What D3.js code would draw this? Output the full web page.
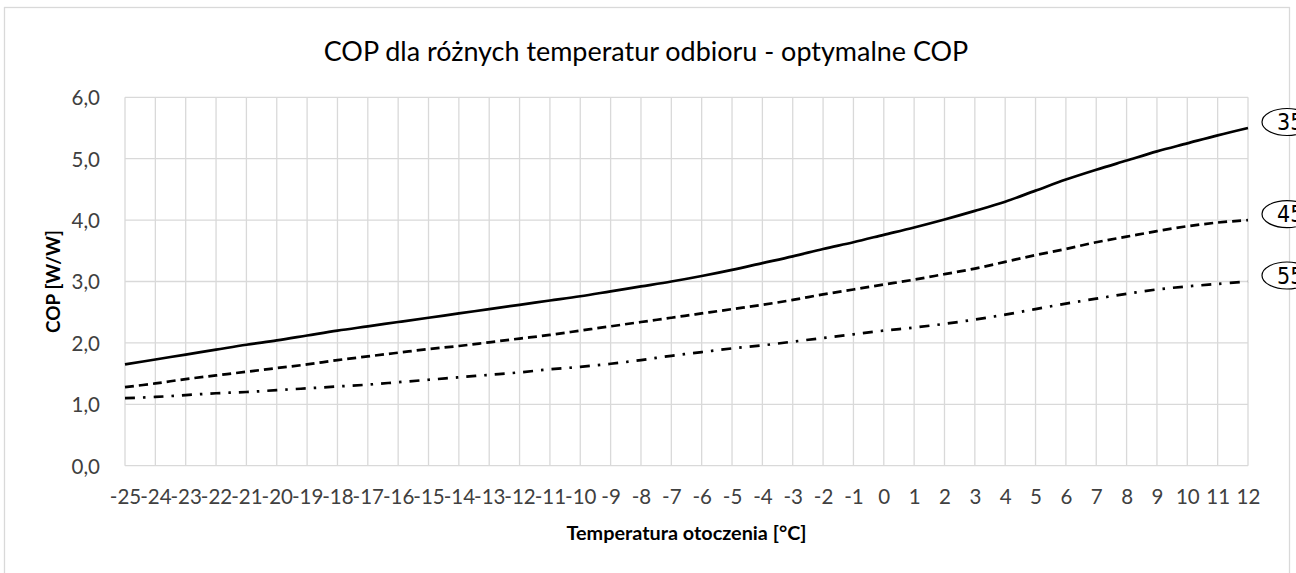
<!DOCTYPE html>
<html>
<head>
<meta charset="utf-8">
<script src="https://cdn.jsdelivr.net/npm/d3@7"></script>
<style>
  html, body { margin: 0; padding: 0; background: #fff; }
  svg { display: block; }
</style>
</head>
<body>
<svg id="chart" width="1296" height="573"></svg>
<script>
const categories = [-25,-24,-23,-22,-21,-20,-19,-18,-17,-16,-15,-14,-13,-12,-11,-10,-9,-8,-7,-6,-5,-4,-3,-2,-1,0,1,2,3,4,5,6,7,8,9,10,11,12];
const series35 = [1.65,1.73,1.81,1.89,1.97,2.04,2.12,2.20,2.27,2.34,2.41,2.48,2.55,2.62,2.69,2.76,2.84,2.92,3.00,3.09,3.19,3.30,3.41,3.53,3.64,3.76,3.88,4.01,4.15,4.30,4.48,4.66,4.82,4.97,5.12,5.25,5.38,5.50];
const series45 = [1.28,1.34,1.41,1.47,1.53,1.59,1.65,1.72,1.78,1.84,1.90,1.95,2.01,2.07,2.13,2.20,2.27,2.34,2.41,2.48,2.55,2.62,2.70,2.79,2.87,2.95,3.03,3.12,3.21,3.32,3.43,3.53,3.64,3.73,3.82,3.90,3.96,4.00];
const series55 = [1.10,1.12,1.15,1.18,1.20,1.23,1.26,1.29,1.32,1.36,1.40,1.44,1.48,1.52,1.57,1.61,1.66,1.72,1.79,1.85,1.91,1.96,2.02,2.08,2.14,2.20,2.25,2.31,2.38,2.46,2.55,2.64,2.72,2.80,2.87,2.92,2.96,3.00];
const seriesNames = ["35", "45", "55"];
const yTicks = [0,1,2,3,4,5,6];
const titleText = "COP dla różnych temperatur odbioru - optymalne COP";
const xTitleText = "Temperatura otoczenia [°C]";
const yTitleText = "COP [W/W]";

const svg = d3.select("#chart");
const FONT = "Lato, 'Open Sans', sans-serif";
const pLeft = 125, pRight = 1248, pTop = 97.3, pBottom = 465.7;

const x = d3.scalePoint().domain(categories).range([pLeft, pRight]);
const y = d3.scaleLinear().domain([0, 6]).range([pBottom, pTop]);

// outer chart border
svg.append("rect")
  .attr("x", 4.5).attr("y", 7.5).attr("width", 1285).attr("height", 600)
  .attr("fill", "none").attr("stroke", "#d9d9d9").attr("stroke-width", 1.3);

// gridlines
const grid = svg.append("g").attr("stroke", "#d9d9d9").attr("stroke-width", 1.3);
grid.selectAll("line.v").data(categories).join("line")
  .attr("class", "v")
  .attr("x1", d => x(d)).attr("x2", d => x(d))
  .attr("y1", pTop).attr("y2", pBottom);
grid.selectAll("line.h").data(yTicks).join("line")
  .attr("class", "h")
  .attr("x1", pLeft).attr("x2", pRight)
  .attr("y1", d => y(d)).attr("y2", d => y(d));

// axes (labels only)
const xAxis = svg.append("g")
  .attr("transform", `translate(0,${pBottom})`)
  .call(d3.axisBottom(x).tickSize(0).tickPadding(0).tickFormat(d => String(d)));
xAxis.select(".domain").remove();
xAxis.selectAll("text")
  .attr("y", 38).attr("dy", 0)
  .attr("font-family", FONT).attr("font-size", 20.5).attr("fill", "#404040");

const fmt = d => d.toFixed(1).replace(".", ",");
const yAxis = svg.append("g")
  .attr("transform", `translate(${pLeft},0)`)
  .call(d3.axisLeft(y).tickValues(yTicks).tickSize(0).tickPadding(0).tickFormat(fmt));
yAxis.select(".domain").remove();
yAxis.selectAll("text")
  .attr("x", -25).attr("dy", "0.36em")
  .attr("font-family", FONT).attr("font-size", 20.5).attr("fill", "#404040");

// lines
const seriesData = [series35, series45, series55];
const dashes = [null, "9,5", "10,8,2.5,8"];
const lineGen = d3.line()
  .x((d, i) => x(categories[i]))
  .y(d => y(d))
  .curve(d3.curveCatmullRom.alpha(0.5));
svg.append("g").selectAll("path").data(seriesData).join("path")
  .attr("d", d => lineGen(d))
  .attr("fill", "none")
  .attr("stroke", "#000")
  .attr("stroke-width", 2.7)
  .attr("stroke-dasharray", (d, i) => dashes[i]);

// helper for fitting text width
function fitWidth(sel, target) {
  const w = sel.node().getComputedTextLength();
  const fs = parseFloat(sel.attr("font-size"));
  sel.attr("font-size", fs * target / w);
}

// title
const title = svg.append("text")
  .attr("x", 646).attr("y", 61).attr("text-anchor", "middle")
  .attr("font-family", FONT).attr("font-size", 26).attr("fill", "#000")
  .text(titleText);
fitWidth(title, 645);

// x title
const xt = svg.append("text")
  .attr("x", (pLeft + pRight) / 2).attr("y", 540).attr("text-anchor", "middle")
  .attr("font-family", FONT).attr("font-weight", "bold").attr("font-size", 20).attr("fill", "#000")
  .text(xTitleText);
fitWidth(xt, 240);

// y title
const yt = svg.append("text")
  .attr("transform", `translate(60,${(pTop + pBottom) / 2}) rotate(-90)`)
  .attr("text-anchor", "middle")
  .attr("font-family", FONT).attr("font-weight", "bold").attr("font-size", 20).attr("fill", "#000")
  .text(yTitleText);
fitWidth(yt, 103);

// series end labels (ellipses)
const lab = svg.append("g").selectAll("g").data(seriesData).join("g")
  .attr("transform", d => `translate(${pRight + 39},${y(d[d.length - 1]) - 6})`);
lab.append("ellipse")
  .attr("rx", 25).attr("ry", 13.5)
  .attr("fill", "#fff").attr("stroke", "#000").attr("stroke-width", 1.2);
lab.append("text")
  .attr("x", -10).attr("dy", "0.36em")
  .attr("font-family", "'Liberation Sans Narrow', 'DejaVu Sans Condensed', sans-serif")
  .attr("font-size", 23).attr("fill", "#000")
  .text((d, i) => seriesNames[i]);
</script>
</body>
</html>
